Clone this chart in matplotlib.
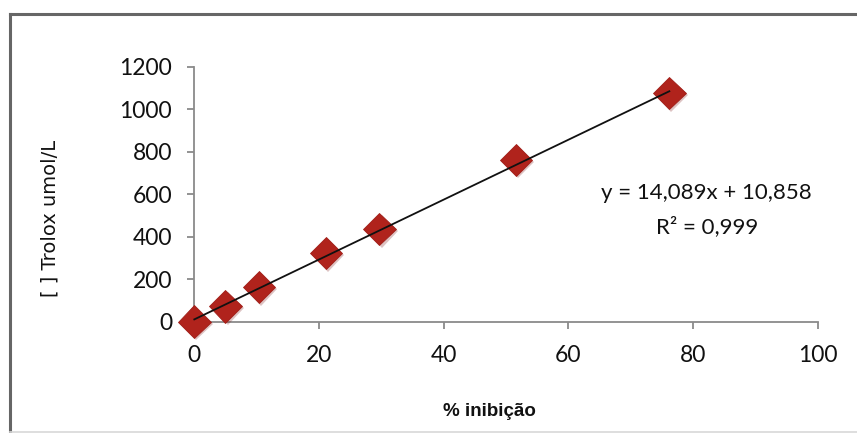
import matplotlib
matplotlib.use("Agg")
import matplotlib.pyplot as plt
from matplotlib.lines import Line2D
import matplotlib.patheffects as pe
import numpy as np

# Data
inhibition_pct = [0.0, 5.0, 10.4, 21.1, 29.7, 51.6, 76.2]
trolox_umol_l = [0, 72, 162, 322, 435, 761, 1075]
slope = 14.089
intercept = 10.858
equation_text = "y = 14,089x + 10,858"
r2_text = "R² = 0,999"
x_ticks = [0, 20, 40, 60, 80, 100]
y_ticks = [0, 200, 400, 600, 800, 1000, 1200]

plt.rcParams['font.family'] = ['Lato', 'DejaVu Sans']

W, H = 857, 433
fig = plt.figure(figsize=(W / 100, H / 100), dpi=100)
fig.patch.set_facecolor('white')

ax = fig.add_axes([194.3 / W, 1 - 321.7 / H, (817.7 - 194.3) / W, (321.7 - 66.7) / H])
ax.set_xlim(0, 100)
ax.set_ylim(0, 1200)
ax.set_xticks(x_ticks)
ax.set_yticks(y_ticks)
ax.set_xticklabels([str(t) for t in x_ticks])
ax.set_yticklabels([str(t) for t in y_ticks])

for s in ['top', 'right']:
    ax.spines[s].set_visible(False)
for s in ['left', 'bottom']:
    ax.spines[s].set_color('#8a8a8a')
    ax.spines[s].set_linewidth(1.3)
ax.tick_params(axis='both', colors='#8a8a8a', length=5, width=1.3, direction='out',
               labelcolor='#111111', labelsize=16.5)
ax.tick_params(axis='y', pad=11)
ax.tick_params(axis='x', pad=12)

# Trendline
xfit = np.array([min(inhibition_pct), max(inhibition_pct)])
ax.plot(xfit, slope * xfit + intercept, color='#111111', lw=1.3, zorder=4, clip_on=False)

# Markers
ax.plot(inhibition_pct, trolox_umol_l, linestyle='none', marker='D', markersize=16.5,
        color='#B0231C', markeredgecolor='#A01E18', markeredgewidth=0.6, zorder=3,
        clip_on=False,
        path_effects=[pe.SimplePatchShadow(offset=(1.5, -1.5), alpha=0.25, shadow_rgbFace='#7a1010'),
                      pe.Normal()])

# Equation text
fig.text(706 / W, 1 - 193 / H, equation_text, ha='center', va='center', fontsize=16, color='#111111')
fig.text(707 / W, 1 - 227 / H, r2_text, ha='center', va='center', fontsize=16, color='#111111')

# Axis titles
fig.text(489 / W, 1 - 411 / H, "% inibição", ha='center', va='center', fontsize=13.5,
         fontweight='bold', color='#111111', family=['Liberation Sans', 'DejaVu Sans'])
fig.text(50 / W, 1 - 218 / H, "[ ] Trolox umol/L", ha='center', va='center', fontsize=14,
         rotation=90, color='#111111', family=['DejaVu Sans'])

# Outer chart frame (partially cropped)
fig.add_artist(Line2D([10 / W, 1.01], [1 - 14 / H, 1 - 14 / H], transform=fig.transFigure,
                      color='#666666', lw=2.2))
fig.add_artist(Line2D([10 / W, 10 / W], [1 - 14 / H, -0.01], transform=fig.transFigure,
                      color='#666666', lw=2.2))
fig.add_artist(Line2D([10 / W, 1.01], [1 - 431.5 / H, 1 - 431.5 / H], transform=fig.transFigure,
                      color='#d8d8d8', lw=1.2))

fig.savefig('out.png', dpi=100, facecolor='white')
